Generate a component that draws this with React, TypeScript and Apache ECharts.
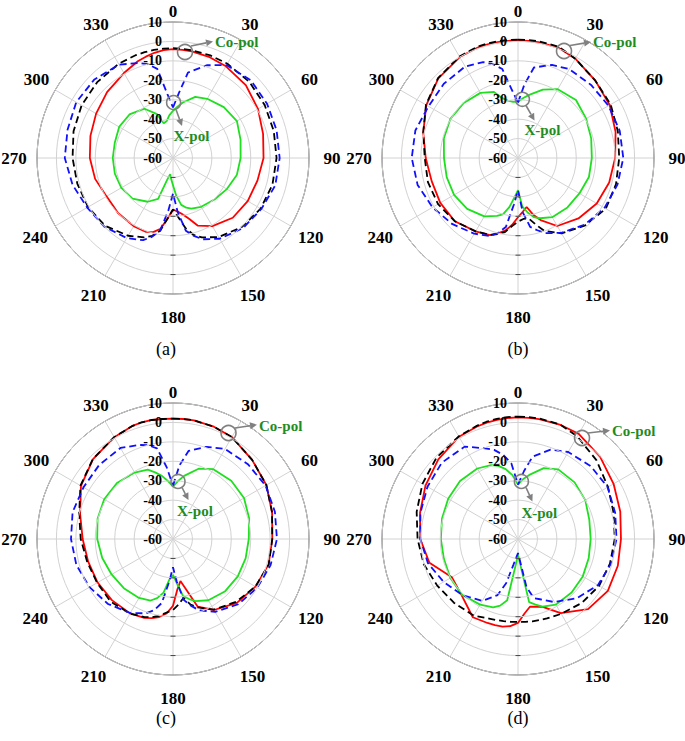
import React, { useEffect, useRef } from 'react';
import * as echarts from 'echarts';

// Angles (degrees, clockwise from top) shared by all traces
const ANGLES = [0, 5, 10, 20, 30, 45, 60, 75, 90, 105, 120, 135, 150, 160, 165, 170, 175, 180,
  185, 190, 195, 200, 210, 225, 240, 255, 270, 285, 300, 315, 330, 340, 345, 350, 355, 360];

// Angular tick labels
const ANGLE_TICKS = [0, 30, 60, 90, 120, 150, 180, 210, 240, 270, 300, 330];

// Radial tick values (dB)
const R_MIN = -60;
const R_MAX = 10;
const R_STEP = 10;

// (a)
const A_BLACK = [-3.5, -3.6, -3.7, -3.8, -4, -4.5, -5.5, -6.3, -6.7, -7, -7.9, -9.8, -13, -16.5, -19, -23.5, -29.5, -33.5,
  -28.8, -22, -18.5, -16.5, -13.8, -10.6, -9.5, -9, -8.3, -7, -5.7, -4.8, -4, -3.7, -3.6, -3.5, -3.5, -3.5];
const A_RED = [-4, -4.1, -4.3, -4.8, -5.5, -7, -9.5, -12, -13.4, -15, -15.6, -16.5, -19.5, -23, -27.5, -30.5, -32.3, -33.5,
  -28.8, -23, -20.5, -19.5, -19.5, -20, -20.5, -18.5, -17.2, -16, -14.3, -12, -9.5, -7, -6, -5, -4.3, -4];
const A_BLUE = [-34, -26.7, -15.3, -9.2, -4.8, -3.4, -4.1, -4.8, -5.1, -5.5, -7.5, -9, -12, -15.5, -18.5, -22, -32, -41.7,
  -33, -22, -18, -15, -12.4, -10, -9, -6.5, -4.3, -3.8, -2.5, -2.8, -4.5, -8, -10, -13.4, -27, -34];
const A_GREEN = [-35.7, -33.5, -31, -26.5, -24.8, -23, -22, -24, -25.2, -26, -28, -29.8, -31, -32.3, -33.5, -35.5, -40.4, -46,
  -49.1, -51.6, -48.3, -37.6, -34, -30.5, -29.3, -29, -29, -29, -28, -28.3, -30.7, -36, -41.5, -40.8, -38, -35.7];

// (b)
const B_BLACK = [0.9, 1, 1, 1, -1, -3.7, -4.9, -6.8, -7.9, -7.8, -7.8, -11, -15.2, -20, -24.5, -28.4, -28.5, -27.2,
  -24.8, -21.3, -19.5, -17.8, -16.4, -14, -12.5, -12, -12, -9.5, -5.3, -1.8, 0.3, 1, 1, 1, 1, 0.9];
const B_RED = [0.5, 0.5, 0.5, 0.5, -1, -3.7, -5.5, -8, -10, -11.4, -13.2, -16, -19.6, -26, -29.8, -34.4, -32.2, -29.5,
  -25.5, -22, -19.8, -17.8, -16.4, -14, -13.8, -14, -12.5, -9.5, -5.5, -2, 0, 0.5, 0.5, 0.5, 0.5, 0.5];
const B_BLUE = [-31.5, -22, -12.7, -9, -7.2, -6.8, -6.2, -5.8, -5.8, -7, -8.6, -11.5, -15.5, -18.8, -21.5, -24, -31.9, -43.4,
  -36, -23.9, -20, -17.3, -15, -12, -9.2, -6.5, -5.3, -5.3, -6.8, -6, -5.6, -7.5, -10, -13.5, -25, -31.5];
const B_GREEN = [-31, -29, -27, -22.5, -19.1, -17.8, -19.5, -21, -22, -22.2, -23.5, -24, -24.8, -27, -28.5, -31.5, -35, -43.4,
  -39.8, -34.3, -30, -28.3, -25.3, -23, -22, -22, -21.9, -20.5, -19.8, -20.2, -21.3, -23.8, -28, -30, -31, -31];

// (c)
const C_BLACK = [2, 2, 2, 1.5, 0.6, -2.4, -4.5, -7.2, -8.9, -9, -11, -14.2, -18, -22.5, -25, -29.2, -26.2, -23.5,
  -22, -19.9, -18.3, -17.2, -15.7, -14.5, -14.9, -14.3, -12.5, -10, -5, -1.7, 0.5, 1.8, 2.2, 2.2, 2, 2];
const C_RED = [2, 2, 2, 1.5, 0.6, -2.4, -4.5, -7.2, -8.9, -9.1, -11, -13.5, -17.8, -23, -32.5, -38, -34, -25.6,
  -21.5, -19.2, -17.8, -16.8, -15.8, -15.5, -15.2, -14.8, -13.5, -10.5, -5.3, -1.8, 0.5, 1.8, 2.2, 2.2, 2, 2];
const C_BLUE = [-32.6, -22, -14, -9.5, -6.5, -5.5, -5, -5.7, -6.5, -8, -9.9, -12.5, -16.7, -21, -24.5, -28.2, -38, -45.5,
  -38, -26.5, -22, -19.3, -16, -12.7, -10.4, -8.5, -7.5, -6.5, -6.8, -6.2, -5.9, -8.5, -10, -12.6, -23, -32.6];
const C_GREEN = [-33, -30, -27, -21.5, -18.5, -17.6, -17.8, -19.4, -21, -21.3, -21.5, -22, -23.6, -26, -28, -30.2, -37.1, -41.5,
  -39.1, -32, -28.5, -26.3, -25, -24.2, -23.5, -22.3, -21, -19.8, -19.1, -19.2, -20.5, -22, -24.5, -27, -30, -33];

// (d)
const D_BLACK = [3, 3, 3, 2.8, 1, -2.8, -6.5, -9, -10.2, -11, -11.8, -13.5, -15.5, -16.5, -16.8, -17, -17.2, -17.3,
  -17.2, -17.1, -16.8, -16.4, -14.5, -13.5, -12, -9.8, -8.3, -6, -3.2, -0.7, 1, 2, 2.5, 2.8, 3, 3];
const D_RED = [2.6, 2.6, 2.6, 2.7, 2.5, -0.2, -3.2, -5.5, -7, -6.8, -6.6, -9, -16, -22.8, -24, -24.6, -21.5, -16.8,
  -15, -14.2, -14.1, -14, -13.5, -19, -20.7, -12.8, -9.7, -7.8, -5, -2, 0.8, 1.6, 2, 2.3, 2.5, 2.6];
const D_BLUE = [-32, -25, -17, -11, -8.3, -7, -6.7, -8.2, -9.3, -10.5, -12.5, -17, -22.5, -27, -28.5, -35, -49, -52.8,
  -50.7, -46.6, -36.4, -29.3, -23.2, -19.3, -15.8, -12, -9.7, -8, -6.2, -4.5, -5.1, -10.3, -12.5, -16, -21, -32];
const D_GREEN = [-32, -29, -26.5, -21.2, -18.6, -18.8, -20, -22, -22.6, -22.3, -21.5, -21, -21, -23, -25, -27, -47, -52,
  -46.7, -28, -24.5, -22.6, -21, -19.3, -19.8, -20.5, -20.3, -19.5, -18.5, -17.8, -18.1, -19.5, -21, -23.5, -27, -32];

const CAPTIONS = ['(a)', '(b)', '(c)', '(d)'];
const BLACKS = [A_BLACK, B_BLACK, C_BLACK, D_BLACK];
const REDS = [A_RED, B_RED, C_RED, D_RED];
const BLUES = [A_BLUE, B_BLUE, C_BLUE, D_BLUE];
const GREENS = [A_GREEN, B_GREEN, C_GREEN, D_GREEN];

// Layout (pixels)
const CENTERS = [[173, 158], [518, 158], [173, 539], [518, 539]];
const RADIUS = 136;
const CAPTION_POS = [[166, 349], [518, 349], [166, 718], [518, 718]];
// annotation offsets relative to panel centre: [circle dx, dy, arrow x1,y1,x2,y2, text x,y]
const COPOL = [
  [12, -106, 18, -112, 40, -116.5, 42, -116.5],
  [46, -107, 52, -112.5, 73, -116, 75, -116],
  [55.5, -106, 62, -111, 84, -114.3, 86, -113.5],
  [64, -101, 70, -106, 92, -108.6, 94, -107.6],
];
const XPOL = [
  [0.6, -55.4, 3, -48.5, 9, -32, 0.5, -22],
  [4.4, -58.7, 8, -52.5, 16.5, -37.5, 6.5, -27.7],
  [5, -57.6, 9, -51.5, 15.5, -39, 4, -27.6],
  [3.4, -57.6, 8, -51.5, 14.4, -37.5, 3.4, -26],
];

const SERIF = '"Liberation Serif", "Times New Roman", serif';
const GRID_COLOR = '#d2d2d2';
const ANNOT_GRAY = '#808080';
const LABEL_GREEN = '#1e8c1e';

function arrow(x1: number, y1: number, x2: number, y2: number): any[] {
  const dx = x2 - x1;
  const dy = y2 - y1;
  const len = Math.sqrt(dx * dx + dy * dy) || 1;
  const ux = dx / len;
  const uy = dy / len;
  const hl = 7;
  const hw = 3.5;
  const bx = x2 - ux * hl;
  const by = y2 - uy * hl;
  return [
    { type: 'line', z: 100, shape: { x1, y1, x2: bx, y2: by }, style: { stroke: ANNOT_GRAY, lineWidth: 1.6 } },
    {
      type: 'polygon', z: 100,
      shape: { points: [[x2, y2], [bx - uy * hw, by + ux * hw], [bx + uy * hw, by - ux * hw]] },
      style: { fill: ANNOT_GRAY },
    },
  ];
}

function textEl(x: number, y: number, text: string, font: string, fill: string, align: string) {
  return {
    type: 'text', z: 100, x, y,
    style: {
      text, font, fill,
      textAlign: align, align,
      textVerticalAlign: 'middle', verticalAlign: 'middle',
    },
  };
}

export default function App() {
  const ref = useRef<HTMLDivElement>(null);

  useEffect(() => {
    if (!ref.current) return;
    const chart = echarts.init(ref.current, undefined, { renderer: 'svg' });

    const polar: any[] = [];
    const angleAxis: any[] = [];
    const radiusAxis: any[] = [];
    const series: any[] = [];
    const graphic: any[] = [];

    const mk = (pi: number, vals: number[], color: string, dashed: boolean, z: number) => ({
      type: 'line',
      coordinateSystem: 'polar',
      polarIndex: pi,
      data: ANGLES.map((a, i) => [vals[i], a]),
      symbol: 'none',
      showSymbol: false,
      silent: true,
      z,
      lineStyle: { color, width: 1.8, type: dashed ? [7, 4] : 'solid' },
    });

    for (let i = 0; i < 4; i++) {
      const [cx, cy] = CENTERS[i];
      polar.push({ center: [cx, cy], radius: RADIUS });
      angleAxis.push({
        polarIndex: i,
        type: 'value',
        min: 0,
        max: 360,
        interval: 30,
        startAngle: 90,
        clockwise: true,
        axisLine: { show: true, lineStyle: { color: '#333', width: 1 } },
        axisTick: { show: false },
        axisLabel: { show: false },
        splitLine: { show: true, lineStyle: { color: GRID_COLOR, width: 1 } },
      });
      radiusAxis.push({
        polarIndex: i,
        type: 'value',
        min: R_MIN,
        max: R_MAX,
        interval: R_STEP,
        axisLine: { show: false },
        axisTick: { show: false },
        axisLabel: {
          margin: 11,
          color: '#000',
          fontFamily: SERIF,
          fontWeight: 'bold',
          fontSize: 14,
        },
        splitLine: { show: true, lineStyle: { color: GRID_COLOR, width: 1 } },
        z: 5,
      });

      series.push(mk(i, REDS[i], '#ff0000', false, 3));
      series.push(mk(i, GREENS[i], '#1ee01e', false, 3));
      series.push(mk(i, BLACKS[i], '#000000', true, 4));
      series.push(mk(i, BLUES[i], '#1010ff', true, 4));

      // angular tick labels around the outer circle
      ANGLE_TICKS.forEach((a) => {
        const t = (a * Math.PI) / 180;
        const s = Math.sin(t);
        const c = Math.cos(t);
        const dist = a === 0 ? 147 : c > 0.05 ? 149 + 10 * Math.abs(s) : 159;
        graphic.push(textEl(cx + dist * s, cy - dist * c, String(a), `bold 17px ${SERIF}`, '#000', 'center'));
      });

      // small ticks along the 180° spoke
      for (let v = R_MIN + R_STEP; v < R_MAX; v += R_STEP) {
        const d = ((v - R_MIN) / (R_MAX - R_MIN)) * RADIUS;
        graphic.push({
          type: 'line', z: 50,
          shape: { x1: cx - 2.5, y1: cy + d, x2: cx + 2.5, y2: cy + d },
          style: { stroke: '#444', lineWidth: 1 },
        });
      }

      // Co-pol annotation
      const cp = COPOL[i];
      graphic.push({
        type: 'circle', z: 100,
        shape: { cx: cx + cp[0], cy: cy + cp[1], r: 7.5 },
        style: { fill: 'none', stroke: ANNOT_GRAY, lineWidth: 1.6 },
      });
      graphic.push(...arrow(cx + cp[2], cy + cp[3], cx + cp[4], cy + cp[5]));
      graphic.push(textEl(cx + cp[6], cy + cp[7], 'Co-pol', `bold 15px ${SERIF}`, LABEL_GREEN, 'left'));

      // X-pol annotation
      const xp = XPOL[i];
      graphic.push({
        type: 'circle', z: 100,
        shape: { cx: cx + xp[0], cy: cy + xp[1], r: 7 },
        style: { fill: 'none', stroke: ANNOT_GRAY, lineWidth: 1.6 },
      });
      graphic.push(...arrow(cx + xp[2], cy + xp[3], cx + xp[4], cy + xp[5]));
      graphic.push(textEl(cx + xp[6], cy + xp[7], 'X-pol', `bold 15px ${SERIF}`, LABEL_GREEN, 'left'));

      // caption
      const [tx, ty] = CAPTION_POS[i];
      graphic.push(textEl(tx, ty, CAPTIONS[i], `18px ${SERIF}`, '#000', 'center'));
    }

    chart.setOption({
      animation: false,
      backgroundColor: '#ffffff',
      polar,
      angleAxis,
      radiusAxis,
      series,
      graphic,
    });

    return () => {
      chart.dispose();
    };
  }, []);

  return (
    <div
      ref={ref}
      style={{ position: 'absolute', left: 0, top: 0, width: 685, height: 741, background: '#fff' }}
    />
  );
}
